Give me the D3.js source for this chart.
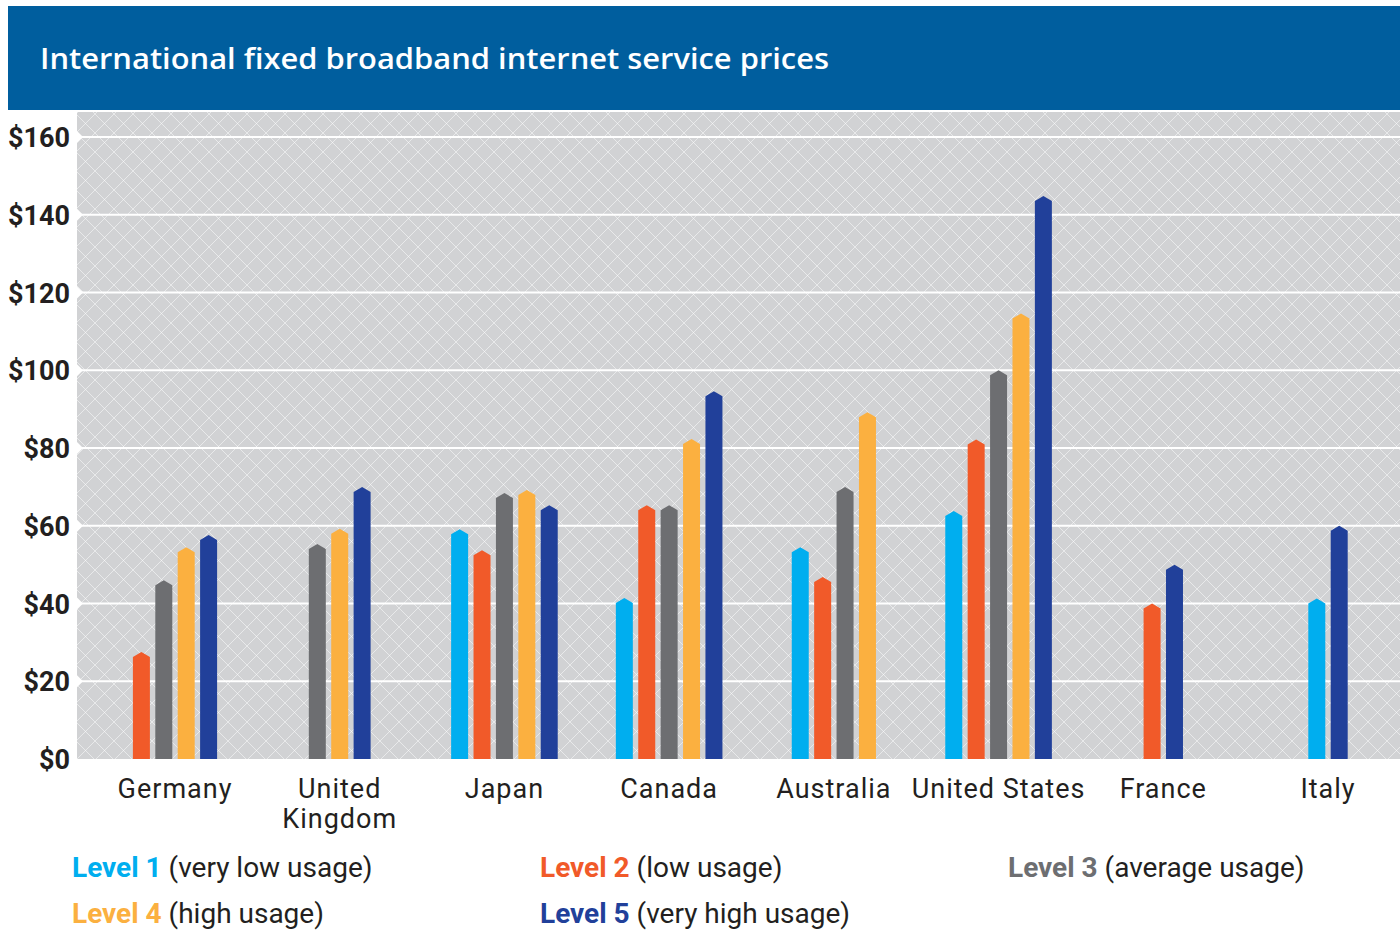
<!DOCTYPE html>
<html>
<head>
<meta charset="utf-8">
<script src="https://cdn.jsdelivr.net/npm/d3@7"></script>
<style>
  body { margin: 0; background: #fff; }
  svg { display: block; }
</style>
</head>
<body>
<svg id="chart" width="1400" height="932"></svg>
<script>
var countries = ["Germany", "United Kingdom", "Japan", "Canada", "Australia", "United States", "France", "Italy"]
var countryLines = [["Germany"], ["United", "Kingdom"], ["Japan"], ["Canada"], ["Australia"], ["United States"], ["France"], ["Italy"]]

// price per level, null = no offer at that level
var level1 = [null, null, 59.1, 41.4, 54.5, 63.8, null, 41.3]
var level2 = [27.5, null, 53.7, 65.3, 46.8, 82.2, 40, null]
var level3 = [46, 55.3, 68.4, 65.3, 70, 100, null, null]
var level4 = [54.5, 59.2, 69.2, 82.3, 89.2, 114.6, null, null]
var level5 = [57.6, 70, 65.3, 94.6, null, 144.8, 50, 60]

var levelNames = ["Level 1", "Level 2", "Level 3", "Level 4", "Level 5"]
var levelDesc = ["(very low usage)", "(low usage)", "(average usage)", "(high usage)", "(very high usage)"]
var levelColors = ["#00aeef", "#f15a29", "#6d6e71", "#fbb040", "#21409a"]

var yTicks = [0, 20, 40, 60, 80, 100, 120, 140, 160]

var svg = d3.select("#chart")

var plot = {left: 77, right: 1400, top: 112, bottom: 759}

// title band
svg.append("rect")
   .attr("x", 8)
   .attr("y", 6)
   .attr("width", 1392)
   .attr("height", 104)
   .attr("fill", "#005e9e")

svg.append("text")
   .attr("x", 40)
   .attr("y", 69)
   .text("International fixed broadband internet service prices")
   .attr("fill", "white")
   .attr("font-family", "'Open Sans', Lato, sans-serif")
   .attr("font-weight", 600)
   .attr("font-size", "29px")
   .attr("textLength", 789)
   .attr("lengthAdjust", "spacingAndGlyphs")

// crosshatch background
var defs = svg.append("defs")
var pat = defs.append("pattern")
              .attr("id", "hatch")
              .attr("patternUnits", "userSpaceOnUse")
              .attr("width", 19)
              .attr("height", 19)
pat.append("rect").attr("width", 19).attr("height", 19).attr("fill", "#d1d2d4")
pat.append("path")
   .attr("d", "M0,0 L19,19 M19,0 L0,19")
   .attr("stroke", "rgba(255,255,255,0.5)")
   .attr("stroke-width", 1)

svg.append("rect")
   .attr("x", plot.left)
   .attr("y", plot.top)
   .attr("width", plot.right - plot.left)
   .attr("height", plot.bottom - plot.top)
   .attr("fill", "url(#hatch)")

var yScale = d3.scaleLinear()
               .domain([0, 160])
               .range([plot.bottom, 137])

var xScale = d3.scalePoint()
               .domain(countries)
               .range([175, 1328])

// gridlines
var grid = svg.append("g").attr("id", "grid")
grid.selectAll("line").data(yTicks.slice(1)).enter()
    .append("line")
    .attr("x1", plot.left)
    .attr("x2", plot.right)
    .attr("y1", function(d){ return yScale(d) })
    .attr("y2", function(d){ return yScale(d) })
    .attr("stroke", "white")
    .attr("stroke-width", 2)

grid.selectAll("path").data(yTicks.slice(1)).enter()
    .append("path")
    .attr("d", function(d){
      var y = yScale(d)
      return "M" + plot.left + "," + (y - 6) + " L" + (plot.left + 6) + "," + y + " L" + plot.left + "," + (y + 6) + " Z"
    })
    .attr("fill", "white")

// y axis labels
var yAxis = d3.axisLeft(yScale)
              .tickValues(yTicks)
              .tickFormat(function(d){ return "$" + d })
              .tickSize(0)
              .tickPadding(0)

var yAxisG = svg.append("g")
                .attr("transform", "translate(70,0)")
                .call(yAxis)
yAxisG.select(".domain").remove()
yAxisG.selectAll("text")
      .attr("dy", "0.36em")
      .attr("fill", "#231f20")
      .attr("font-family", "Roboto, sans-serif")
      .attr("font-weight", "bold")
      .attr("font-size", "27px")

// bars
var levels = [level1, level2, level3, level4, level5]
var barData = []
countries.forEach(function(c, ci){
  var present = []
  for (var li = 0; li < levels.length; li++) {
    if (levels[li][ci] != null) present.push(li)
  }
  present.forEach(function(li, k){
    barData.push({country: c, level: li, value: levels[li][ci], k: k, n: present.length})
  })
})

var step = 22.4
var barW = 17
var peak = 5

svg.append("g").attr("id", "bars")
   .selectAll("path").data(barData).enter()
   .append("path")
   .attr("d", function(d){
     var cx = xScale(d.country) - (d.n - 1) * step / 2 + d.k * step
     var x0 = cx - barW / 2, x1 = cx + barW / 2
     var top = yScale(d.value)
     var y0 = yScale(0)
     return "M" + x0 + "," + y0 + " L" + x0 + "," + (top + peak) + " L" + cx + "," + top +
            " L" + x1 + "," + (top + peak) + " L" + x1 + "," + y0 + " Z"
   })
   .attr("fill", function(d){ return levelColors[d.level] })

// country labels
var xLabels = svg.append("g").attr("id", "xLabels")
xLabels.selectAll("text").data(countries).enter()
       .append("text")
       .attr("x", function(d){ return xScale(d) })
       .attr("y", 798)
       .attr("text-anchor", "middle")
       .attr("fill", "#231f20")
       .attr("font-family", "Roboto, sans-serif")
       .attr("font-size", "27px")
       .attr("letter-spacing", "1px")
       .each(function(d, i){
         var t = d3.select(this)
         countryLines[i].forEach(function(line, j){
           t.append("tspan")
            .attr("x", xScale(d))
            .attr("dy", j == 0 ? 0 : 30)
            .text(line)
         })
       })

// legend
var legendPos = [[72, 877], [540, 877], [1008, 877], [72, 923], [540, 923]]
var legend = svg.append("g").attr("id", "legend")
legend.selectAll("text").data(levelNames).enter()
      .append("text")
      .attr("x", function(d, i){ return legendPos[i][0] })
      .attr("y", function(d, i){ return legendPos[i][1] })
      .attr("font-family", "Roboto, sans-serif")
      .attr("font-size", "28px")
      .each(function(d, i){
        var t = d3.select(this)
        t.append("tspan")
         .attr("fill", levelColors[i])
         .attr("font-weight", "bold")
         .text(d)
        t.append("tspan")
         .attr("fill", "#231f20")
         .text(" " + levelDesc[i])
      })
</script>
</body>
</html>
